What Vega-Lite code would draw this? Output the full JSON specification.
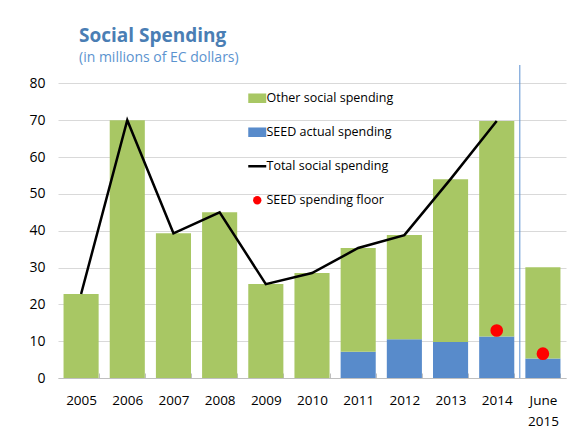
{
  "$schema": "https://vega.github.io/schema/vega-lite/v6.json",
  "autosize": {"type": "none"},
  "padding": {"left": 58, "top": 65, "right": 5, "bottom": 60},
  "width": 508,
  "height": 313,
  "background": "white",
  "config": {
    "view": {"stroke": null},
    "font": "Open Sans"
  },
  "title": {
    "text": "Social Spending",
    "subtitle": "(in millions of EC dollars)",
    "anchor": "start",
    "frame": "group",
    "dx": 21,
    "offset": 0,
    "font": "Open Sans",
    "fontSize": 19,
    "fontWeight": "bold",
    "color": "#4A7EB4",
    "subtitleFont": "Open Sans",
    "subtitleFontSize": 14,
    "subtitleColor": "#5B93CF",
    "subtitlePadding": 5
  },
  "datasets": {
    "bars": [
      {"period": "2005", "series": "Other social spending", "value": 22.8},
      {"period": "2006", "series": "Other social spending", "value": 70.0},
      {"period": "2007", "series": "Other social spending", "value": 39.3},
      {"period": "2008", "series": "Other social spending", "value": 45.0},
      {"period": "2009", "series": "Other social spending", "value": 25.5},
      {"period": "2010", "series": "Other social spending", "value": 28.5},
      {"period": "2011", "series": "SEED actual spending", "value": 7.1},
      {"period": "2011", "series": "Other social spending", "value": 28.2},
      {"period": "2012", "series": "SEED actual spending", "value": 10.5},
      {"period": "2012", "series": "Other social spending", "value": 28.3},
      {"period": "2013", "series": "SEED actual spending", "value": 9.8},
      {"period": "2013", "series": "Other social spending", "value": 44.2},
      {"period": "2014", "series": "SEED actual spending", "value": 11.3},
      {"period": "2014", "series": "Other social spending", "value": 58.5},
      {"period": "June 2015", "series": "SEED actual spending", "value": 5.3},
      {"period": "June 2015", "series": "Other social spending", "value": 24.8}
    ],
    "total": [
      {"period": "2005", "value": 22.8},
      {"period": "2006", "value": 70.0},
      {"period": "2007", "value": 39.3},
      {"period": "2008", "value": 45.0},
      {"period": "2009", "value": 25.5},
      {"period": "2010", "value": 28.5},
      {"period": "2011", "value": 35.3},
      {"period": "2012", "value": 38.8},
      {"period": "2013", "value": 54.0},
      {"period": "2014", "value": 69.8}
    ],
    "floor": [
      {"period": "2014", "value": 12.9},
      {"period": "June 2015", "value": 6.6}
    ],
    "divider": [
      {"period": "2014", "value": 0, "high": 85}
    ]
  },
  "encoding": {
    "x": {
      "field": "period",
      "type": "nominal",
      "sort": null,
      "scale": {"domain": ["2005","2006","2007","2008","2009","2010","2011","2012","2013","2014","June 2015"], "paddingInner": 0.24, "paddingOuter": 0.12},
      "axis": {
        "title": null,
        "labelAngle": 0,
        "labelFont": "Open Sans",
        "labelFontSize": 13.5,
        "labelColor": "black",
        "labelPadding": 20,
        "labelBaseline": "top",
        "labelLineHeight": 21,
        "labelExpr": "datum.value == 'June 2015' ? ['June', '2015'] : datum.value",
        "domainColor": "#BFBFBF",
        "tickColor": "#BFBFBF",
        "tickBand": "extent",
        "tickSize": -5
      }
    },
    "y": {
      "field": "value",
      "type": "quantitative",
      "scale": {"domain": [0, 85], "nice": false},
      "axis": {
        "title": null,
        "values": [0, 10, 20, 30, 40, 50, 60, 70, 80],
        "grid": true,
        "gridColor": "#D9D9D9",
        "domain": false,
        "ticks": false,
        "labelFont": "Open Sans",
        "labelFontSize": 14,
        "labelColor": "black",
        "labelPadding": 13
      }
    }
  },
  "layer": [
    {
      "data": {"name": "bars"},
      "mark": {"type": "bar"},
      "encoding": {
        "y": {"field": "value", "type": "quantitative", "stack": "zero"},
        "color": {
          "field": "series",
          "type": "nominal",
          "scale": {
            "domain": ["Other social spending", "SEED actual spending", "Total social spending", "SEED spending floor"],
            "range": ["#A8C764", "#588BCB", "#000000", "#FF0000"]
          },
          "legend": {
            "orient": "none",
            "legendX": 193,
            "legendY": 27,
            "title": null,
            "labelFont": "Open Sans",
            "labelFontSize": 12.5,
            "labelColor": "black",
            "rowPadding": 21,
            "labelOffset": 3,
            "symbolSize": 324,
            "symbolType": "M-1,-0.53H1V0.53H-1Z",
            "encode": {
              "symbols": {
                "update": {
                  "shape": {"signal": "datum.value === 'Total social spending' ? 'stroke' : datum.value === 'SEED spending floor' ? 'circle' : 'M-1,-0.53H1V0.53H-1Z'"},
                  "size": {"signal": "datum.value === 'SEED spending floor' ? 70 : 324"},
                  "fill": {"signal": "datum.value === 'Total social spending' ? 'transparent' : scale('color', datum.value)"},
                  "stroke": {"signal": "datum.value === 'Total social spending' ? '#000000' : 'transparent'"},
                  "strokeWidth": {"signal": "datum.value === 'Total social spending' ? 2.5 : 0"},
                  "opacity": {"value": 1},
                  "fillOpacity": {"value": 1},
                  "strokeOpacity": {"value": 1}
                }
              }
            }
          }
        },
        "order": {"field": "series", "sort": "descending"}
      }
    },
    {
      "data": {"name": "divider"},
      "mark": {"type": "rule", "color": "#5B8FD0", "strokeWidth": 1},
      "encoding": {
        "x": {"field": "period", "type": "nominal", "bandPosition": 1.158},
        "y2": {"field": "high"}
      }
    },
    {
      "data": {"name": "total"},
      "mark": {"type": "line", "strokeWidth": 2.5, "color": "#000000"},
      "encoding": {
        "color": {"datum": "Total social spending"}
      }
    },
    {
      "data": {"name": "floor"},
      "mark": {"type": "circle", "size": 160, "opacity": 1},
      "encoding": {
        "color": {"datum": "SEED spending floor"}
      }
    }
  ]
}
